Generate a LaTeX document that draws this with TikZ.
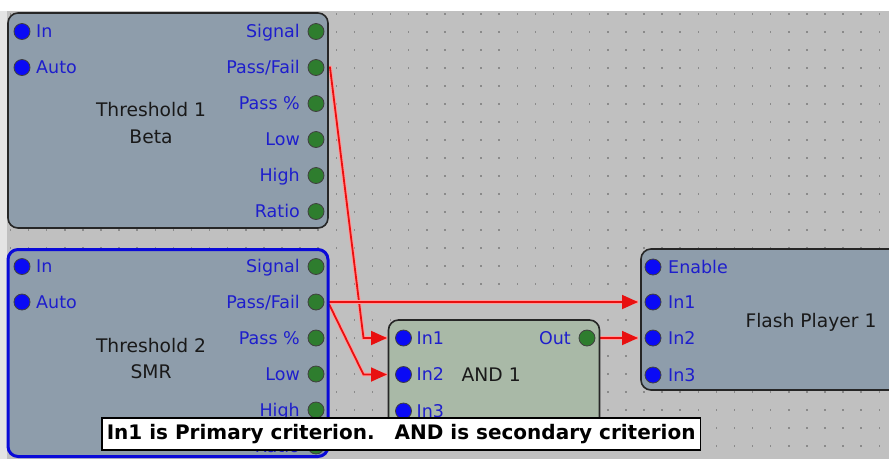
\documentclass[tikz,border=0pt]{standalone}
\usepackage{fontspec}
\setmainfont{DejaVu Sans}
\usetikzlibrary{arrows.meta,calc}
\definecolor{canvas}{HTML}{C0C0C0}
\definecolor{leftstrip}{HTML}{E4E4E4}
\definecolor{griddot}{HTML}{8A8A8A}
\definecolor{slatebox}{HTML}{8E9DAB}
\definecolor{andbox}{HTML}{A9B9A7}
\definecolor{portblue}{HTML}{0A0AF5}
\definecolor{portgreen}{HTML}{2E7D2E}
\definecolor{labelblue}{HTML}{1E1ECC}
\definecolor{selblue}{HTML}{0A0AD8}
\definecolor{wirered}{HTML}{E81010}
\definecolor{wirehalo}{HTML}{FF9C9C}
\newcommand\lblfont{\fontsize{17.5}{20}\selectfont}
\newcommand\ttlfont{\fontsize{18.7}{22}\selectfont}
\newcommand\tipfont{\fontsize{20}{24}\selectfont\bfseries}
\pgfdeclarelayer{bg}\pgfdeclarelayer{conn}\pgfdeclarelayer{front}
\pgfsetlayers{bg,conn,main,front}
\begin{document}
\begin{tikzpicture}[x=1pt,y=-1pt,
  blockbox/.style={draw=black!85, line width=1.6pt, rounded corners=10pt, fill=slatebox, anchor=north west, inner sep=0pt, outer sep=0pt},
  selbox/.style={blockbox, draw=selblue, line width=3pt},
  andblock/.style={blockbox, fill=andbox},
  bport/.style={circle, minimum size=16pt, inner sep=0pt, fill=portblue, draw=black!75, line width=0.8pt},
  gport/.style={bport, fill=portgreen},
  lblL/.style={font=\lblfont, text=labelblue, inner sep=0pt, anchor=base west, yshift=-6.3pt},
  lblR/.style={lblL, anchor=base east},
  ttl/.style={font=\ttlfont, text=black!90, inner sep=0pt, anchor=base, yshift=-6.8pt},
  ttlL/.style={ttl, anchor=base west},
  wire/.style={draw=wirered, line width=1.8pt, line join=miter,
    preaction={draw=wirehalo, line width=3.8pt, -}},
  arrowwire/.style={wire, -{Triangle[length=16pt,width=14pt]}},
  tipbox/.style={draw=black, line width=1.6pt, fill=white, font=\tipfont, inner xsep=5pt, inner ysep=0pt, minimum height=32pt, anchor=north west}
]
\useasboundingbox (0,0) rectangle (889,459);
\begin{pgfonlayer}{bg}
  \fill[white] (0,0) rectangle (889,10.5);
  \fill[leftstrip] (0,10.5) rectangle (7,459);
  \fill[canvas] (7,10.5) rectangle (889,459);
  \foreach \i in {0,...,48} {
    \foreach \j in {0,...,24} {
      \fill[griddot] ({10.5+18.1*\i-0.75},{14+18*\j-0.75}) rectangle ++(1.5,1.5);
    }
  }
\end{pgfonlayer}

% blocks
\node[blockbox, minimum width=320pt, minimum height=215pt] (thr1) at (8,13) {};
\node[selbox, minimum width=320pt, minimum height=207pt] (thr2) at (8,249.5) {};
\node[andblock, minimum width=211pt, minimum height=120pt] (and1) at (388.5,320) {};
\node[blockbox, minimum width=260pt, minimum height=141pt] (fp1) at (641,249) {};

% titles
\node[ttl] (t1title) at (151,109.5) {Threshold 1};
\node[ttl] (t1sub) at (151,136.5) {Beta};
\node[ttl] (t2title) at (151,346) {Threshold 2};
\node[ttl] (t2sub) at (151,372) {SMR};
\node[ttlL] (a1title) at (461.5,374.5) {AND 1};
\node[ttl] (fptitle) at (811,321) {Flash Player 1};

% Threshold 1 ports
\node[bport] (t1in) at (22,31.5) {};
\node[bport] (t1auto) at (22,67.5) {};
\node[gport] (t1sig) at (316,31.5) {};
\node[gport] (t1pf) at (316,67.5) {};
\node[gport] (t1pp) at (316,103.5) {};
\node[gport] (t1low) at (316,139.5) {};
\node[gport] (t1high) at (316,175.5) {};
\node[gport] (t1ratio) at (316,211.5) {};
\node[lblL] (t1inL) at ($(t1in)+(14,0)$) {In};
\node[lblL] (t1autoL) at ($(t1auto)+(14,0)$) {Auto};
\node[lblR] (t1sigL) at ($(t1sig)+(-16,0)$) {Signal};
\node[lblR] (t1pfL) at ($(t1pf)+(-16,0)$) {Pass/Fail};
\node[lblR] (t1ppL) at ($(t1pp)+(-16,0)$) {Pass \%};
\node[lblR] (t1lowL) at ($(t1low)+(-16,0)$) {Low};
\node[lblR] (t1highL) at ($(t1high)+(-16,0)$) {High};
\node[lblR] (t1ratioL) at ($(t1ratio)+(-16,0)$) {Ratio};

% Threshold 2 ports
\node[bport] (t2in) at (22,266.5) {};
\node[bport] (t2auto) at (22,302) {};
\node[gport] (t2sig) at (316,266.5) {};
\node[gport] (t2pf) at (316,302) {};
\node[gport] (t2pp) at (316,338) {};
\node[gport] (t2low) at (316,374) {};
\node[gport] (t2high) at (316,410) {};
\node[gport] (t2ratio) at (316,446) {};
\node[lblL] (t2inL) at ($(t2in)+(14,0)$) {In};
\node[lblL] (t2autoL) at ($(t2auto)+(14,0)$) {Auto};
\node[lblR] (t2sigL) at ($(t2sig)+(-16,0)$) {Signal};
\node[lblR] (t2pfL) at ($(t2pf)+(-16,0)$) {Pass/Fail};
\node[lblR] (t2ppL) at ($(t2pp)+(-16,0)$) {Pass \%};
\node[lblR] (t2lowL) at ($(t2low)+(-16,0)$) {Low};
\node[lblR] (t2highL) at ($(t2high)+(-16,0)$) {High};
\node[lblR] (t2ratioL) at ($(t2ratio)+(-16,0)$) {Ratio};

% AND ports
\node[bport] (a1in1) at (403.5,338) {};
\node[bport] (a1in2) at (403.5,374.5) {};
\node[bport] (a1in3) at (403.5,411) {};
\node[gport] (a1out) at (587,338) {};
\node[lblL] (a1in1L) at ($(a1in1)+(13,0)$) {In1};
\node[lblL] (a1in2L) at ($(a1in2)+(13,0)$) {In2};
\node[lblL] (a1in3L) at ($(a1in3)+(13,0)$) {In3};
\node[lblR] (a1outL) at ($(a1out)+(-16,0)$) {Out};

% Flash player ports
\node[bport] (fpen) at (653,267) {};
\node[bport] (fpin1) at (653,302) {};
\node[bport] (fpin2) at (653,338) {};
\node[bport] (fpin3) at (653,375) {};
\node[lblL] (fpenL) at ($(fpen)+(15,0)$) {Enable};
\node[lblL] (fpin1L) at ($(fpin1)+(15,0)$) {In1};
\node[lblL] (fpin2L) at ($(fpin2)+(15,0)$) {In2};
\node[lblL] (fpin3L) at ($(fpin3)+(15,0)$) {In3};

% connectors
\begin{pgfonlayer}{conn}
  \draw[arrowwire, shorten >=16.5pt] (t1pf.center) -- ++(14,0) -- ($(a1in1)+(-40,0)$) -- (a1in1.center);
  \draw[arrowwire, shorten >=16.5pt] (t2pf.center) -- ++(12,0) -- ($(a1in2)+(-40,0)$) -- (a1in2.center);
  \draw[arrowwire, shorten >=15pt] (t2pf.center) -- (fpin1.center);
  \draw[arrowwire, shorten >=15pt] (a1out.center) -- (fpin2.center);
\end{pgfonlayer}

% tooltip
\begin{pgfonlayer}{front}
  \node[tipbox] (note) at (101,417) {In1 is Primary criterion.\hspace{20pt}AND is secondary criterion};
\end{pgfonlayer}
\end{tikzpicture}
\end{document}
